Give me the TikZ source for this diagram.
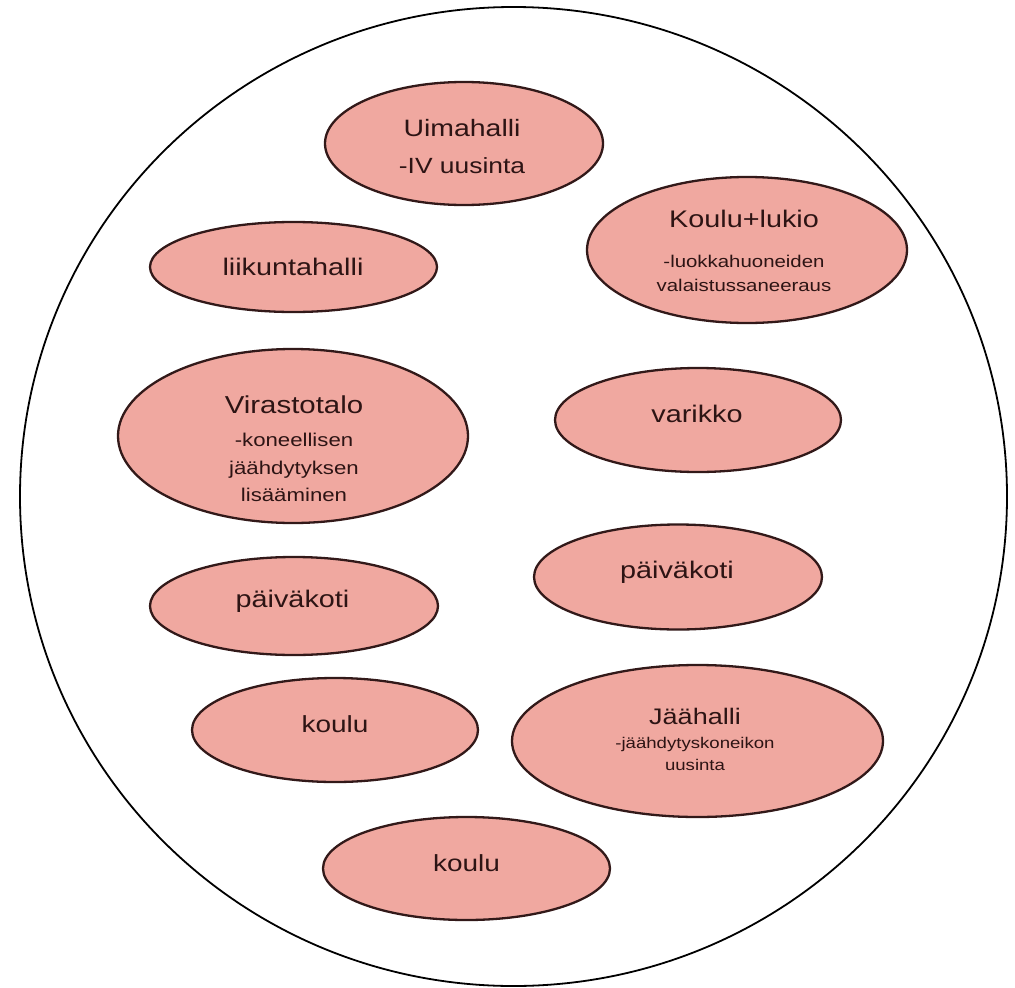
\documentclass[tikz,border=0pt]{standalone}
\usepackage{fontspec}
\setmainfont{Liberation Sans}[FakeStretch=1.2]
\usetikzlibrary{shapes.geometric}
\definecolor{salmon}{RGB}{240,168,160}
\definecolor{rim}{RGB}{50,25,25}
\definecolor{ink}{RGB}{45,20,20}
\begin{document}
\begin{tikzpicture}[x=1pt,y=-1pt,
    spot/.style={shape=ellipse,draw=rim,fill=salmon,line width=2.3pt,inner sep=0pt},
    word/.style={text=ink,anchor=base,inner sep=0pt,font=\fontsize{24}{28}\selectfont},
    block/.style={text=ink,align=center,inner sep=0pt}]
      \useasboundingbox (0,0) rectangle (1015,988);
      \node[shape=ellipse,draw=black,line width=1.8pt,minimum width=987pt,minimum height=979pt] (area) at (513.5,496.5) {};

      \node[spot,minimum width=278pt,minimum height=123pt] (uima) at (464,143.5) {};
      \node[spot,minimum width=320pt,minimum height=146pt] (lukio) at (747,250) {};
      \node[spot,minimum width=287pt,minimum height=90pt] (liikunta) at (293.5,267) {};
      \node[spot,minimum width=350pt,minimum height=174pt] (virasto) at (293,436) {};
      \node[spot,minimum width=286pt,minimum height=104pt] (varikko) at (698,420) {};
      \node[spot,minimum width=288pt,minimum height=105pt] (paivaB) at (678,577) {};
      \node[spot,minimum width=288pt,minimum height=98pt] (paivaA) at (294,606) {};
      \node[spot,minimum width=286pt,minimum height=104pt] (kouluA) at (335,730) {};
      \node[spot,minimum width=371pt,minimum height=152pt] (jaa) at (697.5,741) {};
      \node[spot,minimum width=287pt,minimum height=103pt] (kouluB) at (466.5,868.5) {};

      \node[block,font=\fontsize{22}{37}\selectfont] (uimaT) at (462,147)
        {{\fontsize{23.7}{37}\selectfont Uimahalli}\\-IV uusinta};
      \node[block,font=\fontsize{17}{24}\selectfont] (lukioT) at (744,251)
        {{\fontsize{24}{24}\selectfont Koulu+lukio}\\[16pt]-luokkahuoneiden\\valaistussaneeraus};
      \node[word] (liikuntaT) at (293,275) {liikuntahalli};
      \node[block,font=\fontsize{18.5}{27.5}\selectfont] (virastoT) at (294,449)
        {{\fontsize{24.5}{27.5}\selectfont Virastotalo}\\[5.5pt]-koneellisen\\jäähdytyksen\\lisääminen};
      \node[word] (varikkoT) at (697,422) {varikko};
      \node[word] (paivaBT) at (677,578) {päiväkoti};
      \node[word] (paivaAT) at (292.5,607) {päiväkoti};
      \node[word,font=\fontsize{23.3}{28}\selectfont] (kouluAT) at (335,732) {koulu};
      \node[block,font=\fontsize{15.5}{22}\selectfont] (jaaT) at (695,739)
        {{\fontsize{22.5}{22}\selectfont Jäähalli}\\[2pt]-jäähdytyskoneikon\\uusinta};
      \node[word,font=\fontsize{23.3}{28}\selectfont] (kouluBT) at (466.5,871) {koulu};
\end{tikzpicture}
\end{document}
